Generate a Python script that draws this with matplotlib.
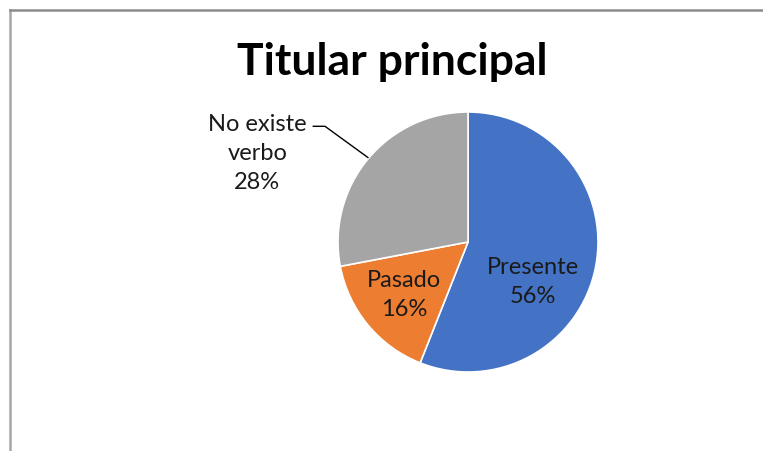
import matplotlib
matplotlib.use("Agg")
from matplotlib import pyplot as plt
from matplotlib.lines import Line2D

plt.rcParams['font.family'] = ['Lato', 'DejaVu Sans']

labels = ['Presente', 'Pasado', 'No existe\nverbo']
values = [56, 16, 28]
colors = ['#4472C4', '#ED7D31', '#A5A5A5']
title = 'Titular principal'

W, H = 763, 451
fig = plt.figure(figsize=(W / 100, H / 100), dpi=100)

# chart frame (only top and left edges are visible in the crop)
fig.add_artist(Line2D([10 / W, 10 / W], [0, 1 - 10 / H], color='#a6a6a6', lw=1.8))
fig.add_artist(Line2D([10 / W, 1], [1 - 10 / H, 1 - 10 / H], color='#8c8c8c', lw=1.8))

# pie: center (468, 242), radius 130 px
ax = fig.add_axes([338 / W, (H - 372) / H, 260 / W, 260 / H])
wedges, _ = ax.pie(values, colors=colors, startangle=90, counterclock=False,
                   wedgeprops=dict(edgecolor='white', linewidth=1.2))
ax.set_xlim(-1, 1)
ax.set_ylim(-1, 1)
ax.set_aspect('auto')
ax.axis('off')

# data labels
pos = [(0.5, -0.31), (-0.49, -0.41), (-1.62, 0.68)]
for lab, v, (x, y) in zip(labels, values, pos):
    ax.text(x, y, f'{lab}\n{v}%', ha='center', va='center', fontsize=17,
            color='#1a1a1a', linespacing=1.45, clip_on=False)

# leader line for the outside label
ax.plot([-1.19, -1.10, -0.77], [0.89, 0.89, 0.65], color='black', lw=1, clip_on=False)

fig.text(392 / W, 1 - 62 / H, title, ha='center', va='center',
         fontsize=32, fontweight='bold', color='black')

fig.savefig('out.png', dpi=100)
